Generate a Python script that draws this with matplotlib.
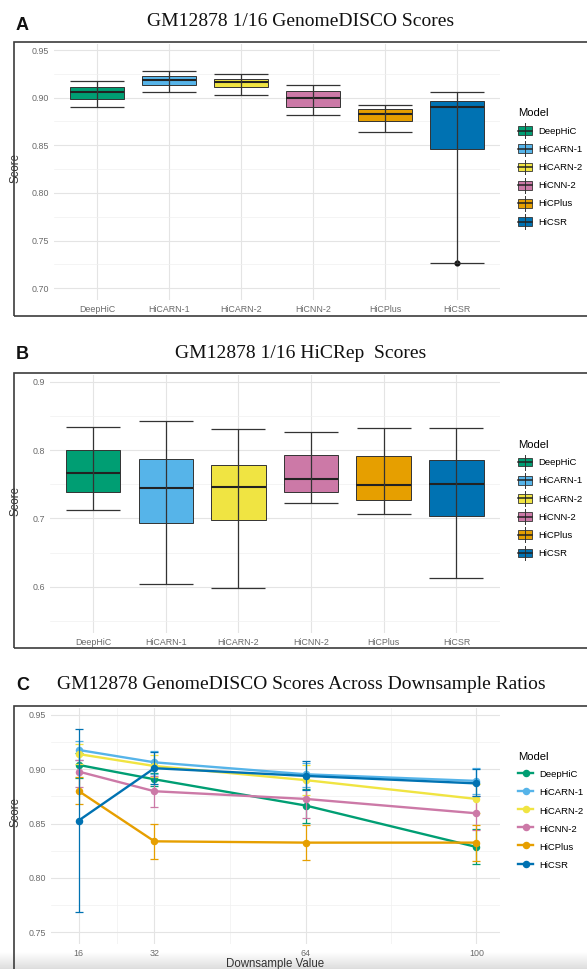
import matplotlib
matplotlib.use('Agg')
import matplotlib.pyplot as plt
import numpy as np
from matplotlib.patches import Rectangle
from matplotlib.lines import Line2D
from matplotlib.legend_handler import HandlerBase
from matplotlib.ticker import AutoMinorLocator, FormatStrFormatter

plt.rcParams['font.family'] = ['Liberation Sans', 'DejaVu Sans']

W, H = 587, 969

models = ['DeepHiC', 'HiCARN-1', 'HiCARN-2', 'HiCNN-2', 'HiCPlus', 'HiCSR']
colors = ['#009E73', '#56B4E9', '#F0E442', '#CC79A7', '#E69F00', '#0072B2']

# A: GenomeDISCO 1/16 box stats
disco_lo = [0.890, 0.906, 0.903, 0.8815, 0.8643, 0.727]
disco_q1 = [0.899, 0.9133, 0.911, 0.8906, 0.875, 0.846]
disco_med = [0.906, 0.9185, 0.916, 0.900, 0.883, 0.890]
disco_q3 = [0.9115, 0.9227, 0.920, 0.907, 0.8878, 0.896]
disco_hi = [0.9175, 0.928, 0.925, 0.913, 0.892, 0.906]
disco_out = [[], [], [], [], [], [0.727]]

# B: HiCRep 1/16 box stats
hicrep_lo = [0.7117, 0.6044, 0.5976, 0.722, 0.7063, 0.6122]
hicrep_q1 = [0.7385, 0.6927, 0.698, 0.739, 0.7273, 0.703]
hicrep_med = [0.7663, 0.7444, 0.7459, 0.7576, 0.7493, 0.7507]
hicrep_q3 = [0.7995, 0.7863, 0.778, 0.7927, 0.7907, 0.7849]
hicrep_hi = [0.833, 0.843, 0.8312, 0.8268, 0.8317, 0.8317]
hicrep_out = [[], [], [], [], [], []]

# C: GenomeDISCO across downsample ratios (mean, lower, upper)
ratios = [16, 32, 64, 100]
ratio_mean = [
    [0.904, 0.8908, 0.8666, 0.8285],
    [0.9178, 0.9064, 0.8954, 0.8893],
    [0.914, 0.903, 0.890, 0.8727],
    [0.8979, 0.8798, 0.8727, 0.8595],
    [0.880, 0.8337, 0.8325, 0.8325],
    [0.8528, 0.901, 0.8939, 0.887],
]
ratio_lo = [
    [0.892, 0.885, 0.851, 0.813],
    [0.909, 0.896, 0.884, 0.877],
    [0.905, 0.893, 0.876, 0.860],
    [0.884, 0.8656, 0.855, 0.844],
    [0.868, 0.8175, 0.8166, 0.816],
    [0.7687, 0.886, 0.881, 0.875],
]
ratio_hi = [
    [0.915, 0.897, 0.882, 0.845],
    [0.926, 0.917, 0.906, 0.901],
    [0.923, 0.913, 0.904, 0.886],
    [0.909, 0.894, 0.890, 0.875],
    [0.893, 0.850, 0.849, 0.849],
    [0.937, 0.916, 0.908, 0.900],
]


def fbox(l, t, r, b):
    return [l / W, 1 - b / H, (r - l) / W, (b - t) / H]


class BoxKey(HandlerBase):
    # ggplot-like boxplot legend key
    def create_artists(self, legend, orig_handle, xdescent, ydescent,
                       width, height, fontsize, trans):
        x0, y0 = -xdescent, -ydescent
        fc = orig_handle.get_facecolor()
        bh = height * 0.72
        rect = Rectangle((x0, y0 + (height - bh) / 2), width, bh,
                         facecolor=fc, edgecolor='#333333', lw=0.6, transform=trans)
        vl = Line2D([x0 + width / 2] * 2, [y0 - 1, y0 + height + 1],
                    color='#333333', lw=0.7, transform=trans)
        ml = Line2D([x0, x0 + width], [y0 + height / 2] * 2,
                    color='#222222', lw=1.1, transform=trans)
        return [rect, vl, ml]


def style_axes(ax):
    ax.set_facecolor('white')
    for s in ax.spines.values():
        s.set_visible(False)
    ax.tick_params(which='both', length=0, labelsize=6.4,
                   labelcolor='#6a6a6a', pad=3.5)
    ax.grid(True, which='major', color='#e4e4e4', lw=0.8)
    ax.grid(True, which='minor', axis='y', color='#f0f0f0', lw=0.5)
    ax.yaxis.set_minor_locator(AutoMinorLocator(2))
    ax.set_axisbelow(True)


fig = plt.figure(figsize=(W / 100, H / 100), dpi=100)

# soft shadow along the bottom edge
shade = fig.add_axes(fbox(0, 952, W, H), zorder=-5)
shade.imshow(np.linspace(1, 0, 40).reshape(-1, 1), aspect='auto',
             cmap='gray', vmin=-6.5, vmax=1, alpha=1)
shade.set_axis_off()

# panel frames
for t, b in [(42, 316), (373, 648), (706, 990)]:
    fig.add_artist(Rectangle((14 / W, 1 - b / H), 600 / W, (b - t) / H,
                             transform=fig.transFigure, fill=False,
                             edgecolor='#3c3c3c', lw=1.2))

# titles and panel letters
titles = [('A', 'GM12878 1/16 GenomeDISCO Scores', 21.5, 25),
          ('B', 'GM12878 1/16 HiCRep  Scores', 353.5, 355),
          ('C', 'GM12878 GenomeDISCO Scores Across Downsample Ratios', 684.5, 686)]
for letter, title, ty, ly in titles:
    fig.text(301 / W, 1 - ty / H, title, ha='center', va='center',
             family='Liberation Serif', fontsize=14, color='#111111')
    fig.text(22.5 / W, 1 - ly / H, letter, ha='center', va='center',
             fontsize=13, fontweight='bold', color='#111111')


def box_panel(rect, lo, q1, med, q3, hi, out, ylim, ticks, fmt, legend_top, label_y):
    ax = fig.add_axes(fbox(*rect))
    style_axes(ax)
    pos = list(range(1, len(models) + 1))
    stats = []
    for i in range(len(models)):
        stats.append(dict(med=med[i], q1=q1[i], q3=q3[i], whislo=lo[i],
                          whishi=hi[i], fliers=out[i], label=models[i]))
    bp = ax.bxp(stats, positions=pos, widths=0.75, patch_artist=True,
                showcaps=False, whiskerprops=dict(lw=0),
                boxprops=dict(edgecolor='#333333', lw=0.7),
                medianprops=dict(color='#222222', lw=1.5),
                flierprops=dict(marker='o', markerfacecolor='#111111',
                                markeredgecolor='#111111', markersize=3.4))
    for patch, c in zip(bp['boxes'], colors):
        patch.set_facecolor(c)
    ax.errorbar(pos, med, yerr=[[m - l for m, l in zip(med, lo)],
                                [h - m for m, h in zip(med, hi)]],
                fmt='none', ecolor='#333333', elinewidth=0.9,
                capsize=19.3, capthick=0.9, zorder=4)
    ax.set_xlim(0.4, 6.6)
    ax.set_ylim(*ylim)
    ax.set_yticks(ticks)
    ax.yaxis.set_major_formatter(FormatStrFormatter(fmt))
    ax.set_xticks(pos)
    ax.set_xticklabels(models)
    ax.set_ylabel('Score', fontsize=8.3, color='#333333')
    ax.yaxis.set_label_coords((21.7 - rect[0]) / (rect[2] - rect[0]), label_y)
    handles = [Rectangle((0, 0), 1, 1, facecolor=c) for c in colors]
    ax.legend(handles, models, title='Model', loc='upper left',
              bbox_to_anchor=(518 / W, 1 - legend_top / H),
              bbox_transform=fig.transFigure, frameon=False,
              fontsize=6.8, title_fontsize=8.1, alignment='left',
              handler_map={Rectangle: BoxKey()},
              handlelength=1.5, handleheight=1.6, handletextpad=0.65,
              labelspacing=0.64, borderpad=0, borderaxespad=0)
    return ax


box_panel((54.3, 44, 500, 300), disco_lo, disco_q1, disco_med, disco_q3,
          disco_hi, disco_out, (0.6877, 0.9563),
          [0.70, 0.75, 0.80, 0.85, 0.90, 0.95], '%.2f', 108.5, 0.516)
box_panel((49.5, 375, 500, 632.7), hicrep_lo, hicrep_q1, hicrep_med, hicrep_q3,
          hicrep_hi, hicrep_out, (0.5327, 0.9098),
          [0.6, 0.7, 0.8, 0.9], '%.1f', 440, 0.51)

# C: line chart
rc = (50.5, 708, 500, 944)
axc = fig.add_axes(fbox(*rc))
style_axes(axc)
axc.grid(True, which='minor', axis='x', color='#f0f0f0', lw=0.5)
for i, m in enumerate(models):
    yerr = [[a - b for a, b in zip(ratio_mean[i], ratio_lo[i])],
            [b - a for a, b in zip(ratio_mean[i], ratio_hi[i])]]
    axc.errorbar(ratios, ratio_mean[i], yerr=yerr, color=colors[i], lw=1.7,
                 marker='o', markersize=4.4, elinewidth=0.9, capsize=2.9,
                 capthick=0.9, label=m, zorder=3 + i * 0.1)
axc.set_xlim(10.06, 104.99)
axc.set_ylim(0.7392, 0.9564)
axc.set_xticks(ratios)
axc.set_xticks([24, 48, 82], minor=True)
axc.set_yticks([0.75, 0.80, 0.85, 0.90, 0.95])
axc.yaxis.set_major_formatter(FormatStrFormatter('%.2f'))
axc.set_ylabel('Score', fontsize=8.3, color='#333333')
axc.yaxis.set_label_coords((22 - rc[0]) / (rc[2] - rc[0]), 0.559)
axc.set_xlabel('Downsample Value', fontsize=8.3, color='#333333')
axc.xaxis.set_label_coords(0.5, -0.061)
axc.xaxis.label.set_va('top')
lh = [Line2D([], [], color=c, lw=1.7, marker='o', markersize=4.4) for c in colors]
axc.legend(lh, models, title='Model', loc='upper left',
           bbox_to_anchor=(518 / W, 1 - 752 / H),
           bbox_transform=fig.transFigure, frameon=False,
           fontsize=6.8, title_fontsize=8.1, alignment='left',
           handlelength=1.6, handleheight=1.6, handletextpad=0.65,
           labelspacing=0.64, borderpad=0, borderaxespad=0)

fig.savefig('out.png', dpi=100)
